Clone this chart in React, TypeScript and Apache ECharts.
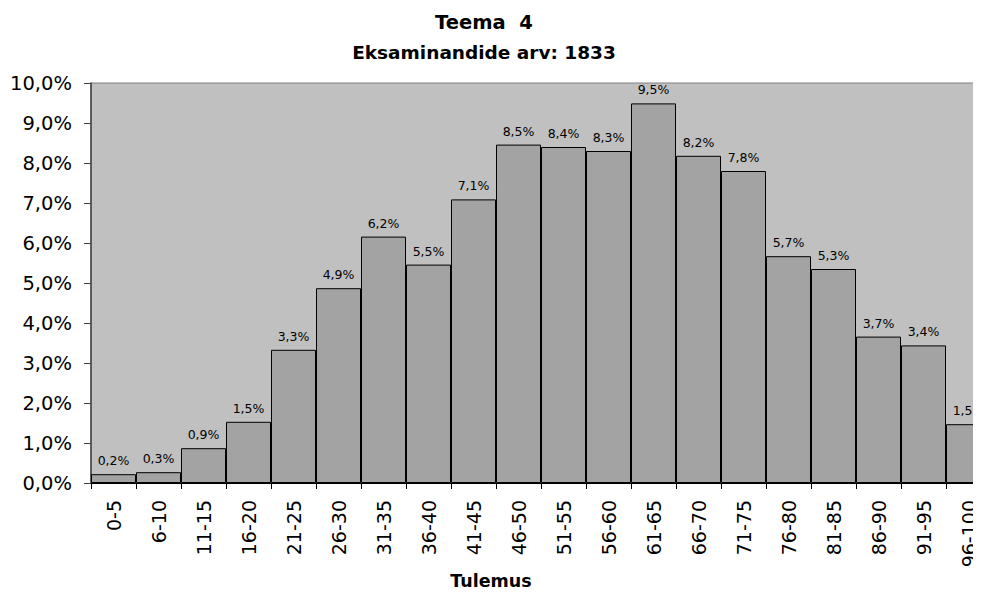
import React, { useEffect, useRef } from "react";
import * as echarts from "echarts";

const categories = [
  "0-5", "6-10", "11-15", "16-20", "21-25", "26-30", "31-35", "36-40", "41-45", "46-50",
  "51-55", "56-60", "61-65", "66-70", "71-75", "76-80", "81-85", "86-90", "91-95", "96-100",
];
const shares = [
  0.22, 0.27, 0.87, 1.53, 3.33, 4.87, 6.16, 5.46, 7.09, 8.46,
  8.4, 8.3, 9.49, 8.18, 7.8, 5.67, 5.35, 3.66, 3.44, 1.47,
];
const yTicks = { min: 0, max: 10, interval: 1 };
const titleLine1 = "Teema  4";
const titleLine2 = "Eksaminandide arv: 1833";
const xAxisTitle = "Tulemus";

const FONT = "DejaVu Sans";
const fmt = (v: number) => v.toFixed(1).replace(".", ",") + "%";

export default function App() {
  const ref = useRef<HTMLDivElement>(null);
  useEffect(() => {
    if (!ref.current) return;
    const chart = echarts.init(ref.current, null, { renderer: "svg" });
    chart.setOption({
      animation: false,
      backgroundColor: "#ffffff",
      title: [
        {
          text: titleLine1,
          left: 479,
          top: 7,
          textAlign: "center",
          textStyle: { fontFamily: FONT, fontWeight: "bold", fontSize: 19.5, color: "#000" },
        },
        {
          text: titleLine2,
          left: 479,
          top: 38,
          textAlign: "center",
          textStyle: { fontFamily: FONT, fontWeight: "bold", fontSize: 18.5, color: "#000" },
        },
        {
          text: xAxisTitle,
          left: 486,
          top: 567,
          textAlign: "center",
          textStyle: { fontFamily: FONT, fontWeight: "bold", fontSize: 17.5, color: "#000" },
        },
      ],
      grid: {
        left: 91,
        top: 83,
        width: 900,
        height: 400,
        outerBoundsMode: "none",
        containLabel: false,
        show: true,
        backgroundColor: "#C0C0C0",
        borderColor: "#808080",
        borderWidth: 1,
      },
      xAxis: {
        type: "category",
        data: categories,
        boundaryGap: true,
        axisLine: { show: true, lineStyle: { color: "#000", width: 1 } },
        axisTick: { show: true, interval: 0, length: 6, lineStyle: { color: "#000" } },
        axisLabel: {
          interval: 0,
          rotate: 90,
          margin: 17,
          fontFamily: FONT,
          fontSize: 19,
          color: "#000",
        },
        splitLine: { show: false },
      },
      yAxis: {
        type: "value",
        min: yTicks.min,
        max: yTicks.max,
        interval: yTicks.interval,
        axisLine: { show: true, lineStyle: { color: "#404040", width: 1.5 } },
        axisTick: { show: true, length: 7, lineStyle: { color: "#404040" } },
        axisLabel: {
          margin: 19,
          fontFamily: FONT,
          fontSize: 19.5,
          color: "#000",
          formatter: (v: number) => fmt(v),
        },
        splitLine: { show: false },
      },
      series: [
        {
          type: "bar",
          data: shares,
          barCategoryGap: "0%",
          itemStyle: { color: "#A3A3A3", borderColor: "#000", borderWidth: 1 },
          label: {
            show: true,
            position: "top",
            distance: 7,
            fontFamily: FONT,
            fontSize: 12.5,
            color: "#000",
            formatter: (p: any) => fmt(p.value),
          },
        },
      ],
    });
    return () => chart.dispose();
  }, []);
  return <div ref={ref} style={{ width: 981, height: 601, margin: -8 }} />;
}
